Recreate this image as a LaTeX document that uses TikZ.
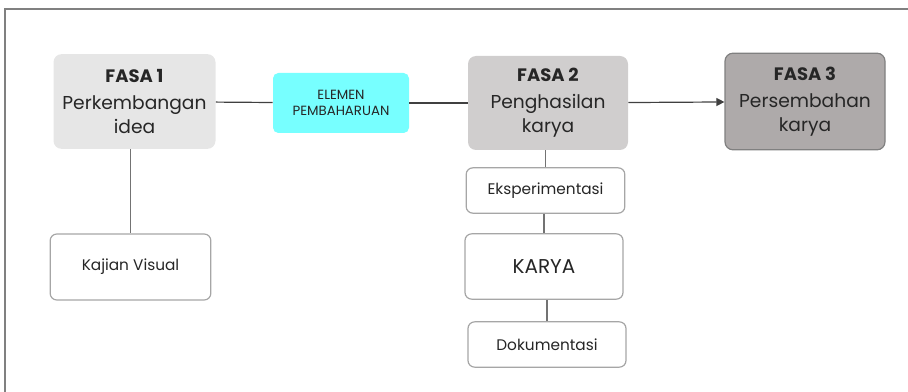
\documentclass[tikz,border=0pt]{standalone}
\usepackage{fontspec}
\setmainfont{Poppins}
\usetikzlibrary{arrows.meta}
\definecolor{f1}{HTML}{E6E6E6}
\definecolor{f2}{HTML}{D0CECE}
\definecolor{f3}{HTML}{AEAAAA}
\definecolor{cy}{HTML}{77FFFF}
\definecolor{ln}{HTML}{404040}
\definecolor{bd}{HTML}{A6A6A6}
\tikzset{
  px/.style={x=0.75pt,y=-0.75pt},
  phase/.style={rounded corners=6pt, inner sep=0pt, align=center, font=\fontsize{14}{18}\selectfont, text=black!85},
  sub/.style={draw=bd, line width=0.9pt, fill=white, rounded corners=5pt, inner sep=0pt, align=center, font=\fontsize{11.5}{13}\selectfont, text=black!85},
  conn/.style={draw=ln, line width=0.9pt},
  vconn/.style={draw=gray!90!black, line width=0.9pt},
  head/.style={font=\bfseries\fontsize{14}{17}\selectfont},
}
\begin{document}
\begin{tikzpicture}[px]
\useasboundingbox (0,0) rectangle (908,392);
\draw[gray, line width=0.9pt] (5,392) -- (5,9) -- (908,9);
\node[phase, fill=f1, minimum width=121.5pt, minimum height=71pt] (p1) at (134.5,101.5) {{\bfseries\fontsize{13.5}{16}\selectfont FASA 1}\\[2pt]Perkembangan\\idea};
\node[phase, fill=cy, rounded corners=4pt, minimum width=102pt, minimum height=45pt, font=\fontsize{10}{12}\selectfont] (el) at (341,103) {ELEMEN\\PEMBAHARUAN};
\node[phase, fill=f2, minimum width=120pt, minimum height=70.5pt] (p2) at (548,103) {{\bfseries\fontsize{13.5}{16}\selectfont FASA 2}\\[2pt]Penghasilan\\karya};
\node[phase, fill=f3, draw=gray, line width=0.9pt, minimum width=120pt, minimum height=72.5pt] (p3) at (805,101.5) {{\bfseries\fontsize{13.5}{16}\selectfont FASA 3}\\[2pt]Persembahan\\karya};
\node[sub, minimum width=120.5pt, minimum height=49.5pt] (kv) at (130.5,267) {Kajian Visual};
\node[sub, minimum width=119pt, minimum height=34pt] (ek) at (545.5,190.5) {Eksperimentasi};
\node[sub, minimum width=118.5pt, minimum height=49pt, font=\fontsize{15}{17}\selectfont] (ka) at (544,266.5) {KARYA};
\node[sub, minimum width=118.5pt, minimum height=34pt] (dk) at (547,344.5) {Dokumentasi};
\draw[conn] (p1) -- (el);
\draw[conn] (el) -- (p2);
\draw[conn, -{Triangle[length=6pt,width=6pt]}] (p2) -- (p3);
\draw[vconn] (p1.south -| kv.north) -- (kv.north);
\draw[vconn] (p2.south -| ek.north) -- (ek.north);
\draw[vconn] (ek.south -| ka.north) -- (ka.north);
\draw[vconn] (ka.south -| dk.north) -- (dk.north);
\end{tikzpicture}
\end{document}
